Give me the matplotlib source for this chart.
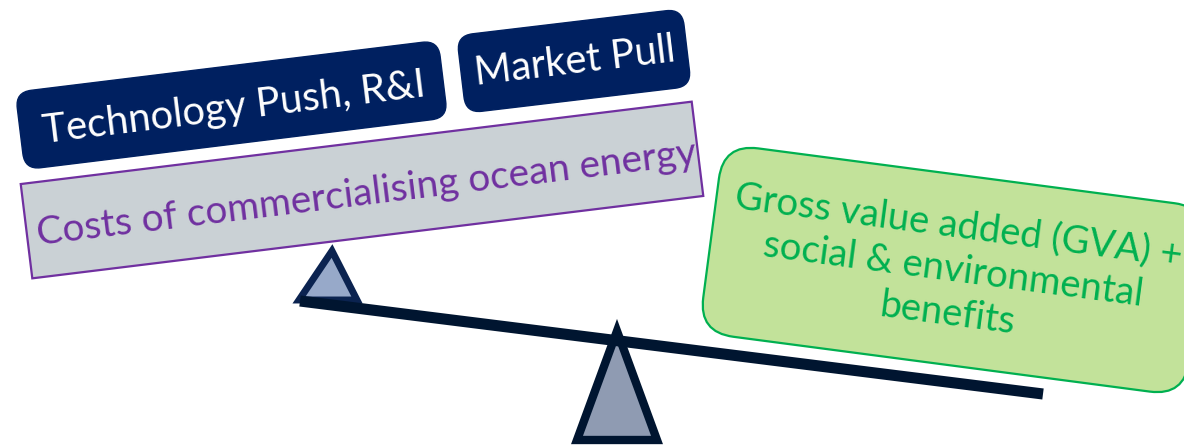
import matplotlib
matplotlib.use("Agg")
import matplotlib.pyplot as plt
from matplotlib.patches import FancyBboxPatch, Polygon
from matplotlib.transforms import Affine2D

# labels shown in the diagram
push_labels = ["Technology Push, R&I", "Market Pull"]
cost_label = "Costs of commercialising ocean energy"
benefit_lines = ["Gross value added (GVA) +", "social & environmental", "benefits"]

W, H = 1184, 445
NAVY = "#002060"
DARK = "#001530"
PURPLE = "#7030A0"
GREEN = "#00B050"

plt.rcParams['font.family'] = ['Lato', 'DejaVu Sans']

fig = plt.figure(figsize=(W / 100, H / 100), dpi=100)
ax = fig.add_axes([0, 0, 1, 1])
ax.set_xlim(0, W)
ax.set_ylim(0, H)
ax.axis("off")
renderer = fig.canvas.get_renderer()


def P(x, y):
    # pixel position (y down) -> data position (y up)
    return x, H - y


def rbox(cx, cy, w, h, ang, r, fc, ec, lw, z=2):
    cx, cy = P(cx, cy)
    style = f"round,pad=0,rounding_size={r}" if r > 0 else "square,pad=0"
    p = FancyBboxPatch((cx - w / 2, cy - h / 2), w, h, boxstyle=style,
                       fc=fc, ec=ec, lw=lw, zorder=z,
                       transform=Affine2D().rotate_deg_around(cx, cy, ang) + ax.transData)
    ax.add_patch(p)


def fit_text(cx, cy, s, width, ang, color, z=5, **kw):
    x, y = P(cx, cy)
    t = ax.text(x, y, s, ha="center", va="center", color=color, fontsize=20,
                rotation=0, rotation_mode="anchor", zorder=z, **kw)
    wpx = t.get_window_extent(renderer).width
    t.set_fontsize(20 * width / wpx)
    t.set_rotation(ang)
    return t


# fulcrums
small_tri = Polygon([P(299, 300), P(332, 251), P(357, 300)], closed=True,
                    fc="#97A9C9", ec="#0B2350", lw=5, joinstyle="miter", zorder=2)
big_tri = Polygon([P(577, 440), P(617, 331), P(657, 440)], closed=True,
                  fc="#8F9BB2", ec=DARK, lw=6, joinstyle="miter", zorder=2)
ax.add_patch(small_tri)
ax.add_patch(big_tri)

# beam
bx, by = zip(P(300, 301), P(1043, 394))
ax.plot(bx, by, color=DARK, lw=8, solid_capstyle="butt", zorder=3)

# left side boxes
rbox(231.5, 105, 426, 78, 7.0, 16, NAVY, NAVY, 1)
rbox(574, 61, 227, 78, 6.8, 16, NAVY, NAVY, 1)
rbox(362, 190, 676, 95, 7.0, 0, "#CAD1D5", PURPLE, 1.6)

fit_text(234, 108, push_labels[0], 385, 7.0, "white")
fit_text(575, 62, push_labels[1], 203, 6.8, "white")
fit_text(366, 194, cost_label, 664, 7.0, PURPLE)

# benefits box
rbox(954, 270, 490, 190, -7.5, 35, "#C2E29A", GREEN, 1.6)
fit_text(953, 270, "\n".join(benefit_lines), 452, -7.5, GREEN,
         multialignment="center", linespacing=1.3)

fig.savefig("out.png", dpi=100)
